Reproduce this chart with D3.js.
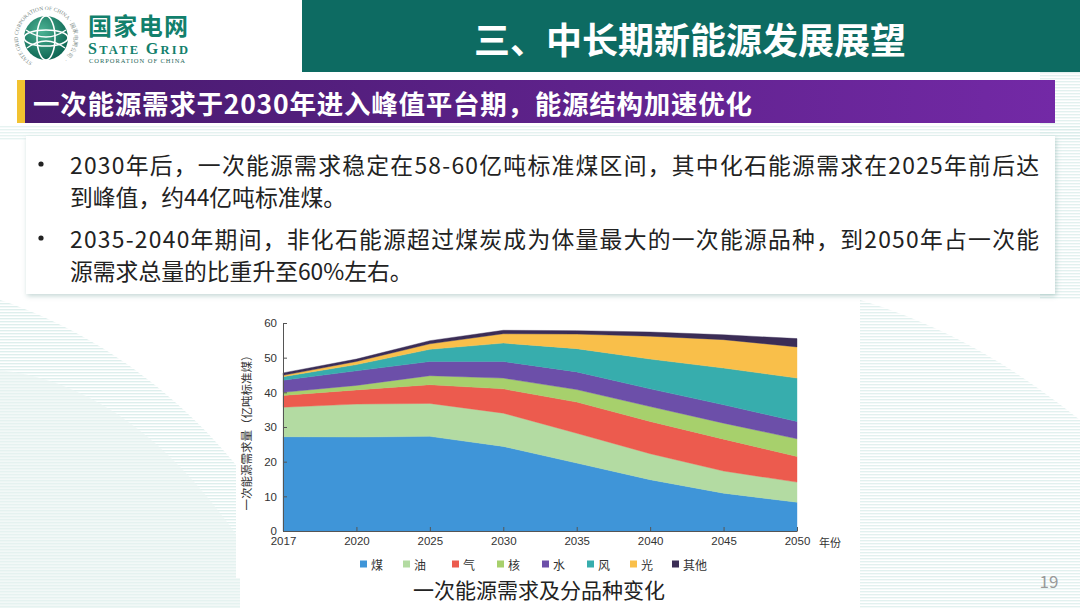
<!DOCTYPE html>
<html><head><meta charset="utf-8">
<script src="https://cdn.jsdelivr.net/npm/d3@7"></script>
<style>
html,body{margin:0;padding:0;background:#fff;}
svg{display:block;font-family:"Noto Sans CJK SC","Noto Sans",sans-serif;}
</style></head>
<body>
<svg id="slide" width="1080" height="608"></svg>
<script>
// ---------- data ----------
const years = ["2017","2020","2025","2030","2035","2040","2045","2050"];
const seriesNames = ["煤","油","气","核","水","风","光","其他"];
const coal   = [27.2, 27.1, 27.3, 24.4, 19.6, 14.8, 10.9, 8.3];
const oil    = [8.5, 9.5, 9.5, 9.6, 8.6, 7.5, 6.4, 5.8];
const gas    = [3.4, 4.1, 5.4, 7.0, 9.0, 9.3, 9.2, 7.4];
const nuclear= [0.9, 1.3, 2.6, 3.1, 3.6, 4.3, 4.6, 5.1];
const hydro  = [3.5, 4.2, 4.1, 4.8, 5.1, 5.1, 5.3, 5.0];
const wind   = [1.0, 1.8, 3.5, 5.3, 6.7, 8.6, 10.6, 12.5];
const solar  = [0.4, 0.9, 1.6, 2.7, 4.2, 6.6, 8.2, 9.0];
const other  = [0.7, 0.7, 0.9, 1.0, 1.0, 1.2, 1.4, 2.4];
const yTicks = [0,10,20,30,40,50,60];
const colors = ["#3f95d8","#b3dba2","#ec5b4e","#a7d06c","#6c4fa9","#37adad","#f9bf4a","#3b2d56"];

const titleText = "三、中长期新能源发展展望";
const subTitle = "一次能源需求于2030年进入峰值平台期，能源结构加速优化";
const bulletLines = [
  {t:"2030年后，一次能源需求稳定在58-60亿吨标准煤区间，其中化石能源需求在2025年前后达", bullet:true, justify:true},
  {t:"到峰值，约44亿吨标准煤。", bullet:false, justify:false},
  {t:"2035-2040年期间，非化石能源超过煤炭成为体量最大的一次能源品种，到2050年占一次能", bullet:true, justify:true},
  {t:"源需求总量的比重升至60%左右。", bullet:false, justify:false}
];
const yLabel = "一次能源需求量（亿吨标准煤）";
const xUnit = "年份";
const caption = "一次能源需求及分品种变化";

const svg = d3.select("#slide");
const defs = svg.append("defs");

// ---------- background ----------
const pat = defs.append("pattern").attr("id","stripes").attr("width",6).attr("height",3)
  .attr("patternUnits","userSpaceOnUse");
pat.append("rect").attr("width",6).attr("height",1.4).attr("fill","#d6ebe8");
svg.append("rect").attr("width",1080).attr("height",608).attr("fill","#ffffff");
svg.append("path").attr("d","M0,300 C120,340 200,420 240,470 L240,608 L0,608 Z").attr("fill","url(#stripes)").attr("opacity",0.8);
svg.append("path").attr("d","M0,370 C90,380 170,440 240,540 L240,608 L0,608 Z").attr("fill","#e9f4f2").attr("opacity",0.6);
svg.append("path").attr("d","M860,300 C960,330 1030,380 1080,420 L1080,608 L860,608 Z").attr("fill","url(#stripes)").attr("opacity",0.7);
svg.append("path").attr("d","M1040,60 L1080,60 L1080,300 L1040,300 Z").attr("fill","url(#stripes)").attr("opacity",0.7);
svg.append("path").attr("d","M0,125 L1080,125 L1080,140 L0,140 Z").attr("fill","url(#stripes)").attr("opacity",0.6);

// ---------- header ----------
svg.append("rect").attr("x",302).attr("y",0).attr("width",778).attr("height",72).attr("fill","#0d6b62");
svg.append("text").attr("x",690).attr("y",38).attr("text-anchor","middle").attr("dominant-baseline","central")
  .attr("fill","#fff").attr("font-size",36).attr("font-weight",700).text(titleText);

// logo
const lg = defs.append("radialGradient").attr("id","globe").attr("cx","40%").attr("cy","35%").attr("r","70%");
lg.append("stop").attr("offset","0%").attr("stop-color","#4db394");
lg.append("stop").attr("offset","100%").attr("stop-color","#0a6250");
const logo = svg.append("g");
logo.append("circle").attr("cx",46).attr("cy",38).attr("r",22).attr("fill","url(#globe)");
logo.append("ellipse").attr("cx",46).attr("cy",38).attr("rx",9).attr("ry",22).attr("fill","none").attr("stroke","#fff").attr("stroke-width",1.6);
logo.append("ellipse").attr("cx",46).attr("cy",38).attr("rx",22).attr("ry",8).attr("fill","none").attr("stroke","#fff").attr("stroke-width",1.6);
logo.append("path").attr("d","M26,30 Q46,44 66,30").attr("fill","none").attr("stroke","#fff").attr("stroke-width",1.3);
logo.append("path").attr("d","M27,48 Q46,34 65,48").attr("fill","none").attr("stroke","#fff").attr("stroke-width",1.3);
defs.append("path").attr("id","ring").attr("d","M46,66 A28,28 0 1,1 46.1,66");
logo.append("text").attr("font-size",5.5).attr("fill","#7a8a86").attr("font-family","Liberation Serif")
  .append("textPath").attr("href","#ring").attr("startOffset","8%").text("STATE GRID CORPORATION OF CHINA · 国家电网公司 ·");
logo.append("text").attr("x",88).attr("y",35).attr("font-size",24).attr("font-weight",700).attr("fill","#12806c")
  .attr("textLength",100).text("国家电网");
const sg = logo.append("text").attr("x",88).attr("y",54).attr("font-weight",700).attr("fill","#12806c")
  .attr("font-family","Liberation Serif").attr("textLength",100);
sg.append("tspan").attr("font-size",16).text("S");
sg.append("tspan").attr("font-size",12.5).text("TATE ");
sg.append("tspan").attr("font-size",16).text("G");
sg.append("tspan").attr("font-size",12.5).text("RID");
logo.append("text").attr("x",89).attr("y",63).attr("font-size",6.5).attr("fill","#2a6a5c")
  .attr("font-family","Liberation Serif").attr("textLength",96).text("CORPORATION OF CHINA");

// purple bar
const pg = defs.append("linearGradient").attr("id","purp");
pg.append("stop").attr("offset","0%").attr("stop-color","#461a6c");
pg.append("stop").attr("offset","100%").attr("stop-color","#7329a6");
svg.append("rect").attr("x",17).attr("y",80).attr("width",1038).attr("height",43).attr("fill","url(#purp)");
svg.append("rect").attr("x",17).attr("y",80).attr("width",8).attr("height",43).attr("fill","#f2c230");
svg.append("text").attr("x",33).attr("y",102).attr("dominant-baseline","central").attr("fill","#fff")
  .attr("font-size",26.5).attr("font-weight",700).attr("textLength",719).attr("lengthAdjust","spacing").text(subTitle);

// text box
const sh = defs.append("filter").attr("id","shadow").attr("x","-5%").attr("y","-10%").attr("width","110%").attr("height","130%");
sh.append("feDropShadow").attr("dx",1).attr("dy",2).attr("stdDeviation",2.5).attr("flood-color","#7aa6a0").attr("flood-opacity",0.45);
svg.append("rect").attr("x",26).attr("y",136).attr("width",1029).attr("height",158).attr("fill","#fff").attr("filter","url(#shadow)");
const lineY = [164, 196, 238, 270];
bulletLines.forEach((l,i)=>{
  if(l.bullet) svg.append("circle").attr("cx",41).attr("cy",lineY[i]).attr("r",2.6).attr("fill","#222");
  const t = svg.append("text").attr("x",70).attr("y",lineY[i]).attr("dominant-baseline","central")
    .attr("font-size",22.8).attr("fill","#222").text(l.t);
  if(l.justify) t.attr("textLength",969).attr("lengthAdjust","spacing");
});

// ---------- chart ----------
svg.append("rect").attr("x",236).attr("y",303).attr("width",610).attr("height",275).attr("fill","#fff");

const x = d3.scalePoint().domain(years).range([283,797]);
const y = d3.scaleLinear().domain([0,60]).range([531,323]);

const allSeries = [coal,oil,gas,nuclear,hydro,wind,solar,other];
const rows = years.map((yr,i)=>{
  const r = {year:yr};
  seriesNames.forEach((n,j)=> r[n] = allSeries[j][i]);
  return r;
});
const stacked = d3.stack().keys(seriesNames)(rows);
const area = d3.area().x(d=>x(d.data.year)).y0(d=>y(d[0])).y1(d=>y(d[1]));
svg.append("g").selectAll("path").data(stacked).join("path")
  .attr("d",area).attr("fill",(d,i)=>colors[i]).attr("stroke",(d,i)=>colors[i]).attr("stroke-width",0.4);

const yAxis = d3.axisLeft(y).tickValues(yTicks).tickSizeInner(-4).tickSizeOuter(0).tickPadding(6);
const gy = svg.append("g").attr("transform","translate(283,0)").call(yAxis);
const xAxis = d3.axisBottom(x).tickSizeInner(-4).tickSizeOuter(0).tickPadding(6);
const gx = svg.append("g").attr("transform","translate(0,531)").call(xAxis);
[gx,gy].forEach(g=>{
  g.select(".domain").attr("stroke","#555");
  g.selectAll(".tick line").attr("stroke","#555");
  g.selectAll(".tick text").attr("fill","#333").attr("font-size",11.5).attr("font-family","Liberation Sans, Arial, sans-serif");
});
svg.append("text").attr("x",830).attr("y",542).attr("text-anchor","middle").attr("dominant-baseline","central")
  .attr("font-size",11).attr("fill","#333").text(xUnit);
svg.append("text").attr("transform","translate(246,430) rotate(-90)").attr("text-anchor","middle")
  .attr("dominant-baseline","central").attr("font-size",11.5).attr("fill","#333").text(yLabel);

// legend
const legX = [360,403,452,497,542,587,630,672];
const leg = svg.append("g").selectAll("g").data(seriesNames).join("g")
  .attr("transform",(d,i)=>`translate(${legX[i]},564)`);
leg.append("rect").attr("x",0).attr("y",-3.5).attr("width",7).attr("height",7).attr("fill",(d,i)=>colors[i]);
leg.append("text").attr("x",11).attr("y",0).attr("dominant-baseline","central").attr("font-size",12)
  .attr("fill","#333").text(d=>d);

svg.append("text").attr("x",539).attr("y",589).attr("text-anchor","middle").attr("dominant-baseline","central")
  .attr("font-size",21).attr("fill","#222").text(caption);
svg.append("text").attr("x",1049).attr("y",580).attr("text-anchor","middle").attr("dominant-baseline","central")
  .attr("font-size",17).attr("fill","#9a9a9a").text("19");
</script>
</body></html>
